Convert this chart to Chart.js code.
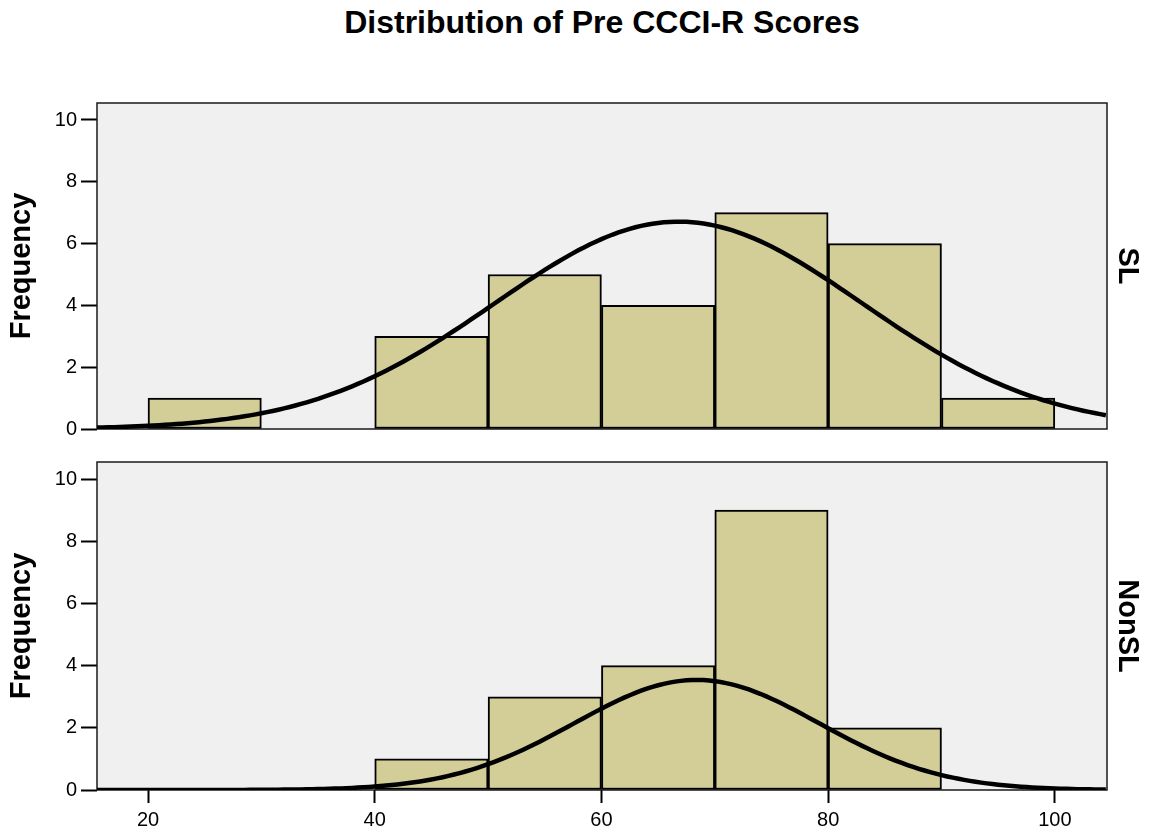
<!DOCTYPE html>
<html>
<head>
<meta charset="utf-8">
<title>Distribution of Pre CCCI-R Scores</title>
<script src="https://cdn.jsdelivr.net/npm/chart.js@4.4.0/dist/chart.umd.min.js"></script>
<style>
  html, body { margin: 0; padding: 0; background: #fff; }
  #wrap { position: relative; width: 1149px; height: 836px; overflow: hidden;
          font-family: "Liberation Sans", Arial, sans-serif; }
  #title { position: absolute; left: 0; width: 1204px; top: 4px; text-align: center;
           font-weight: bold; font-size: 32px; color: #000; }
  canvas { position: absolute; left: 0; }
</style>
</head>
<body>
<div id="wrap">
  <div id="title">Distribution of Pre CCCI-R Scores</div>
  <canvas id="slChart" width="1149" height="445" style="top:0"></canvas>
  <canvas id="nonSlChart" width="1149" height="391" style="top:445px"></canvas>
</div>
<script>
// Histogram bins (centre of each 10-point bin)
const binCenters = [25, 35, 45, 55, 65, 75, 85, 95];
// Frequencies per bin
const slCounts    = [1, 0, 3, 5, 4, 7, 6, 1];
const nonSlCounts = [0, 0, 1, 3, 4, 9, 2, 0];
// Tick labels
const xTickValues = [20, 40, 60, 80, 100];
const yTickValues = [0, 2, 4, 6, 8, 10];
// Group labels
const groupLabels = ['SL', 'NonSL'];
// Fitted normal curves: mean, standard deviation, height at the mean
const slMean = 66.8, slSd = 16.2, slPeak = 6.71;
const nonSlMean = 68.4, nonSlSd = 10.8, nonSlPeak = 3.54;
// Axis ranges
const xMin = 15.5, xMax = 104.6, yMax = 10.55;

const FONT = '"Liberation Sans", Arial, sans-serif';
const BAR_FILL = '#D3CE98';
const PANEL_BG = '#F0F0F0';

function normalCurve(mean, sd, peak) {
  const pts = [];
  for (let x = xMin; x <= xMax + 0.001; x += 0.5) {
    pts.push({ x: x, y: peak * Math.exp(-((x - mean) ** 2) / (2 * sd * sd)) });
  }
  return pts;
}

// Grey panel with a dark frame behind the bars
const panelPlugin = {
  id: 'panel',
  beforeDatasetsDraw(chart) {
    const { ctx, chartArea: a } = chart;
    ctx.save();
    ctx.fillStyle = PANEL_BG;
    ctx.fillRect(a.left, a.top, a.right - a.left, a.bottom - a.top);
    ctx.strokeStyle = '#1a1a1a';
    ctx.lineWidth = 1.5;
    ctx.strokeRect(a.left, a.top, a.right - a.left, a.bottom - a.top);
    ctx.restore();
  }
};

function makePanel(canvasId, counts, mean, sd, peak, label, showX, padding) {
  return new Chart(document.getElementById(canvasId), {
    type: 'bar',
    data: {
      datasets: [
        {
          type: 'line',
          data: normalCurve(mean, sd, peak),
          borderColor: '#000',
          borderWidth: 4.5,
          pointRadius: 0,
          tension: 0,
          fill: false,
          order: 0
        },
        {
          type: 'bar',
          data: binCenters.map((c, i) => ({ x: c, y: counts[i] })),
          backgroundColor: BAR_FILL,
          borderColor: '#000',
          borderWidth: 2,
          borderSkipped: false,
          barPercentage: 1,
          categoryPercentage: 1,
          order: 1
        }
      ]
    },
    options: {
      responsive: false,
      animation: false,
      layout: { padding: padding },
      plugins: { legend: { display: false }, tooltip: { enabled: false }, title: { display: false } },
      scales: {
        x: {
          type: 'linear',
          min: xMin,
          max: xMax,
          offset: false,
          display: showX,
          afterBuildTicks: s => { s.ticks = xTickValues.map(v => ({ value: v })); },
          afterFit: s => { if (showX) s.height = 46; },
          grid: { offset: false, drawOnChartArea: false, drawTicks: true, tickLength: 13, tickWidth: 2, tickColor: '#000' },
          border: { display: false },
          ticks: { color: '#000', font: { family: FONT, size: 20 }, padding: 5, maxRotation: 0 }
        },
        y: {
          type: 'linear',
          position: 'left',
          min: 0,
          max: yMax,
          afterBuildTicks: s => { s.ticks = yTickValues.map(v => ({ value: v })); },
          afterFit: s => { s.width = 97; },
          grid: { drawOnChartArea: false, drawTicks: true, tickLength: 16, tickWidth: 2, tickColor: '#000' },
          border: { display: false },
          ticks: { color: '#000', font: { family: FONT, size: 20 }, padding: 4 },
          title: { display: true, text: 'Frequency', color: '#000',
                   font: { family: FONT, size: 29, weight: 'bold' }, padding: { top: 5, bottom: 0 } }
        },
        yR: {
          type: 'linear',
          position: 'right',
          min: 0,
          max: yMax,
          afterFit: s => { s.width = 42; },
          grid: { display: false },
          border: { display: false },
          ticks: { display: false },
          title: { display: true, text: label, color: '#000',
                   font: { family: FONT, size: 29, weight: 'bold' }, padding: { top: 5, bottom: 0 } }
        }
      }
    },
    plugins: [panelPlugin]
  });
}

makePanel('slChart', slCounts, slMean, slSd, slPeak, groupLabels[0], false,
          { top: 103, bottom: 14, left: 0, right: 0 });
makePanel('nonSlChart', nonSlCounts, nonSlMean, nonSlSd, nonSlPeak, groupLabels[1], true,
          { top: 17, bottom: 0, left: 0, right: 0 });
</script>
</body>
</html>
